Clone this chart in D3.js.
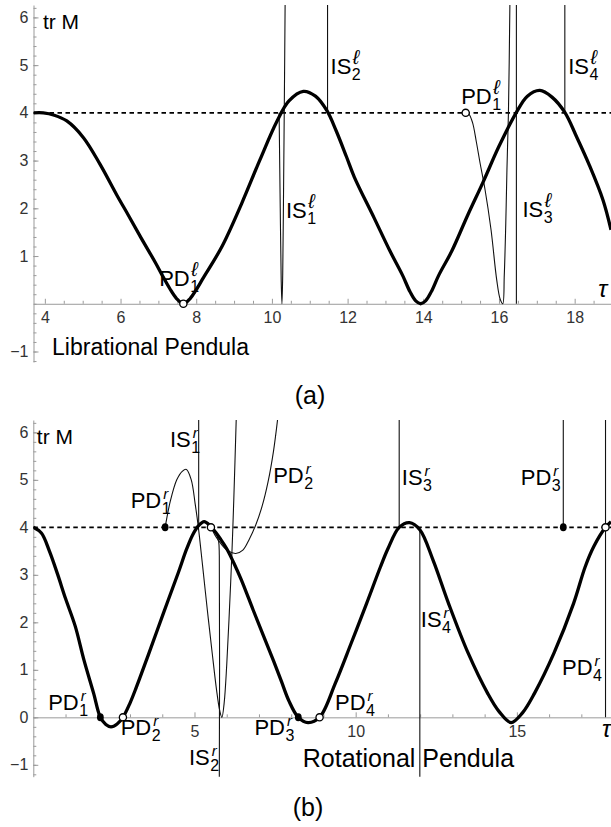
<!DOCTYPE html>
<html>
<head>
<meta charset="utf-8">
<script src="https://cdn.jsdelivr.net/npm/d3@7"></script>
<style>
body { margin: 0; background: #fff; }
text { font-family: "Liberation Sans", Arial, sans-serif; }
</style>
</head>
<body>
<script>
// ---------- (a) librational pendula ----------
var libXMajor = [4, 6, 8, 10, 12, 14, 16, 18];
var libYLabels = [-1, 1, 2, 3, 4, 5, 6];

// thick curve: [tau, tr M]
var libMain = [[3.70,4.00],[3.96,4.00],[4.25,3.95],[4.58,3.83],[5.02,3.48],[5.46,2.92],[5.90,2.28],[6.21,1.85],
  [6.55,1.37],[6.93,0.85],[7.12,0.57],[7.30,0.32],[7.48,0.11],[7.66,0.00],[7.84,0.11],[8.02,0.32],[8.17,0.52],
  [8.68,1.20],[9.20,2.10],[9.68,3.01],[10.13,3.82],[10.45,4.25],[10.83,4.45],[11.15,4.35],[11.45,4.05],
  [11.70,3.62],[11.97,3.08],[12.18,2.65],[12.70,1.80],[13.11,1.12],[13.45,0.60],[13.65,0.25],[13.80,0.06],
  [13.93,0.00],[14.06,0.06],[14.21,0.25],[14.41,0.60],[14.75,1.10],[15.17,1.85],[15.58,2.55],[16.00,3.30],
  [16.46,4.01],[16.75,4.35],[17.08,4.47],[17.40,4.33],[17.74,4.01],[18.05,3.50],[18.39,2.90],[18.75,2.17],
  [18.96,1.55]];
// thin branches
var libIS1 = [[10.19,4.0],[10.22,2.0],[10.245,0.5],[10.265,0.0],[10.285,0.6],[10.31,2.6],[10.33,4.4],[10.35,6.4]];
var libIS2 = [[11.47,4.03],[11.47,6.4]];
var libIS3 = [[16.46,0.0],[16.46,6.4]];
var libIS4 = [[17.74,4.0],[17.74,6.4]];
var libPD1 = [[15.12,4.0],[15.2,3.98],[15.3,3.8],[15.4,3.4],[15.5,2.95],[15.63,2.4],[15.79,1.55],[15.94,0.5],
  [16.03,0.1],[16.1,0.0],[16.14,0.6],[16.18,1.7],[16.21,2.8],[16.25,4.0],[16.29,6.4]];
var libOpen = [[7.66,0.0],[15.12,4.0]];
var libFilled = [];
// labels: text, subscript, superscript, tau, tr M (baseline anchor)
var libLabels = [["IS","1","\u2113",10.37,1.80],["IS","2","\u2113",11.55,4.81],["PD","1","\u2113",15.0,4.19],
  ["IS","4","\u2113",17.83,4.81],["IS","3","\u2113",16.62,1.82],["PD","1","\u2113",7.02,0.37]];

// ---------- (b) rotational pendula ----------
var rotXMajor = [5, 10, 15];
var rotYLabels = [-1, 0, 1, 2, 3, 4, 5, 6];

var rotMain = [[0.00,4.00],[0.25,3.88],[0.50,3.50],[0.75,3.02],[1.00,2.50],[1.30,1.92],[1.57,1.21],[1.87,0.51],
  [2.08,0.00],[2.25,-0.15],[2.41,-0.20],[2.60,-0.14],[2.78,0.00],[3.00,0.30],[3.20,0.64],[3.56,1.30],
  [4.04,2.20],[4.50,3.05],[4.76,3.55],[4.95,3.85],[5.12,4.03],[5.30,4.12],[5.48,4.04],[5.65,3.90],
  [5.80,3.76],[6.00,3.55],[6.22,3.25],[6.45,2.90],[6.82,2.26],[7.15,1.70],[7.44,1.21],[7.70,0.75],
  [7.92,0.36],[8.22,0.00],[8.52,-0.11],[8.88,0.00],[9.37,0.72],[9.86,1.56],[10.34,2.40],[10.77,3.17],
  [11.00,3.55],[11.35,4.00],[11.67,4.10],[11.99,3.95],[12.40,3.31],[12.88,2.40],[13.49,1.35],[14.09,0.51],
  [14.45,0.12],[14.82,-0.11],[15.18,0.10],[15.55,0.51],[16.15,1.35],[16.76,2.40],[17.12,3.17],[17.39,3.60],
  [17.75,4.00],[17.92,4.12]];
var rotPD1 = [[4.09,4.0],[4.25,4.55],[4.45,5.0],[4.62,5.18],[4.75,5.22],[4.9,5.0],[5.02,4.5],[5.12,4.0],
  [5.25,3.2],[5.4,2.25],[5.55,1.35],[5.68,0.6],[5.78,0.15],[5.85,0.0],[5.92,0.3],[6.0,1.1],[6.08,2.2],
  [6.16,3.45],[6.22,4.6],[6.3,6.4]];
var rotPD2 = [[5.51,4.0],[5.65,3.82],[5.85,3.63],[6.05,3.5],[6.28,3.45],[6.5,3.52],[6.7,3.75],[6.9,4.05],
  [7.1,4.45],[7.28,4.95],[7.45,5.6],[7.6,6.4]];
var rotIS1 = [[5.13,4.03],[5.13,6.4]];
var rotIS2 = [[5.55,3.97],[5.68,3.86],[5.75,3.7],[5.77,3.4],[5.77,-1.3]];
var rotIS3 = [[11.35,4.0],[11.35,6.4]];
var rotIS4 = [[11.99,3.97],[11.99,-1.3]];
var rotPD3 = [[16.44,4.0],[16.44,6.4]];
var rotPD4 = [[17.75,0.0],[17.75,6.4]];
var rotOpen = [[2.78,0.0],[8.88,0.0],[5.51,4.0],[17.75,4.0]];
var rotFilled = [[2.08,0.0],[8.22,0.0],[4.09,4.0],[16.44,4.0]];
var rotLabels = [["IS","1","r",4.24,5.70],["PD","1","r",3.02,4.40],["PD","2","r",7.44,4.93],
  ["IS","3","r",11.43,4.89],["PD","3","r",15.12,4.89],["IS","4","r",12.02,1.91],["PD","4","r",16.4,0.89],
  ["PD","1","r",0.46,0.15],["PD","2","r",2.71,-0.37],["PD","3","r",6.86,-0.37],["PD","4","r",9.36,0.15],
  ["IS","2","r",4.83,-1.00]];

var W = 611, H = 827;
var svg = d3.select("body").append("svg").attr("width", W).attr("height", H);

function addLabel(g, x, y, main, sub, sup) {
    var t = g.append("text").attr("x", x).attr("y", y).attr("font-size", 22).text(main);
    var w = t.node().getComputedTextLength();
    g.append("text").attr("x", x + w + 0.5).attr("y", y + 6).attr("font-size", 16).text(sub);
    if (sup == "r") {
        g.append("text").attr("x", x + w + 2).attr("y", y - 9)
            .attr("font-size", 15).attr("font-style", "italic").text(sup);
    } else {
        g.append("text").attr("x", x + w + 1.5).attr("y", y - 10)
            .attr("font-size", 20).attr("font-style", "italic").text(sup);
    }
}

function drawPanel(p) {
    var x = d3.scaleLinear().domain(p.xDomain).range(p.xRange);
    var y = d3.scaleLinear().domain(p.yDomain).range(p.yRange);
    var g = svg.append("g");

    g.append("clipPath").attr("id", p.id + "clip")
      .append("rect")
        .attr("x", p.xRange[0]).attr("y", p.yRange[1])
        .attr("width", W - p.xRange[0]).attr("height", p.yRange[0] - p.yRange[1]);

    // x axis: major with labels, minor ticks
    g.append("g").attr("transform", "translate(0," + y(0) + ")")
        .call(d3.axisBottom(x).tickValues(p.xMajor).tickSizeInner(-5).tickSizeOuter(0).tickPadding(8));
    g.append("g").attr("transform", "translate(0," + y(0) + ")")
        .call(d3.axisBottom(x).tickValues(p.xMinor).tickSizeInner(-3).tickSizeOuter(0).tickFormat(""))
        .select(".domain").remove();

    g.append("g").attr("transform", "translate(" + p.xRange[0] + ",0)")
        .call(d3.axisLeft(y).tickValues(p.yLabels).tickSizeInner(-5).tickSizeOuter(0).tickPadding(5)
            .tickFormat(function(d) { return d < 0 ? "\u2212" + Math.abs(d) : d; }));
    g.append("g").attr("transform", "translate(" + p.xRange[0] + ",0)")
        .call(d3.axisLeft(y).tickValues(p.yMinor).tickSizeInner(-3).tickSizeOuter(0).tickFormat(""))
        .select(".domain").remove();

    g.selectAll(".domain").attr("stroke", "#9a9a9a");
    g.selectAll(".tick line").attr("stroke", "#9a9a9a");
    g.selectAll(".tick text").attr("font-size", 16).attr("fill", "#333")
        .attr("font-family", "'Liberation Sans', Arial, sans-serif");

    // dashed level tr M = 4
    g.append("line")
        .attr("x1", p.xRange[0]).attr("x2", W)
        .attr("y1", y(4)).attr("y2", y(4))
        .attr("stroke", "#000").attr("stroke-width", 1.6).attr("stroke-dasharray", "4.5,3.5");

    var line = d3.line()
        .x(function(d) { return x(d[0]); })
        .y(function(d) { return y(d[1]); })
        .curve(d3.curveCatmullRom.alpha(0.5));

    var curves = g.append("g").attr("clip-path", "url(#" + p.id + "clip)");
    p.thin.forEach(function(s) {
        curves.append("path").attr("d", line(s))
            .attr("fill", "none").attr("stroke", "#111").attr("stroke-width", 1.1);
    });
    curves.append("path").attr("d", line(p.main))
        .attr("fill", "none").attr("stroke", "#000").attr("stroke-width", 3.3)
        .attr("stroke-linejoin", "round");

    g.selectAll(".openPt").data(p.open).enter().append("circle")
        .attr("cx", function(d) { return x(d[0]); })
        .attr("cy", function(d) { return y(d[1]); })
        .attr("r", 3.6).attr("fill", "#fff").attr("stroke", "#000").attr("stroke-width", 1.3);
    g.selectAll(".fillPt").data(p.filled).enter().append("ellipse")
        .attr("cx", function(d) { return x(d[0]); })
        .attr("cy", function(d) { return y(d[1]); })
        .attr("rx", 3.4).attr("ry", 4).attr("fill", "#000");

    p.labels.forEach(function(l) {
        addLabel(g, x(l[3]), y(l[4]), l[0], l[1], l[2]);
    });

    // axis names
    g.append("text").attr("x", x(p.trM[0])).attr("y", y(p.trM[1]))
        .attr("font-size", 21).text("tr M");
    g.append("text").attr("x", x(p.tau[0])).attr("y", y(p.tau[1]))
        .attr("font-size", 24).attr("font-style", "italic")
        .attr("font-family", "'Liberation Serif', 'Times New Roman', serif").text("\u03C4");
    g.append("text").attr("x", x(p.title[0])).attr("y", y(p.title[1]))
        .attr("font-size", p.titleSize).text(p.title[2]);

    svg.append("text").attr("x", p.caption[0]).attr("y", p.caption[1])
        .attr("text-anchor", "middle").attr("font-size", 25)
        .attr("font-family", "'Liberation Serif', 'Times New Roman', serif").text(p.caption[2]);
}

drawPanel({
    id: "lib",
    xDomain: [3.7, 18.96], xRange: [33.5, 611],
    yDomain: [-1.22, 6.26], yRange: [362, 5],
    xMajor: libXMajor, xMinor: d3.range(4, 19, 0.5).filter(function(v) { return v % 2 != 0; }),
    yLabels: libYLabels, yMinor: d3.range(-12, 63, 2).map(function(v) { return v / 10; }),
    main: libMain,
    thin: [libIS1, libIS2, libIS3, libIS4, libPD1],
    open: libOpen, filled: libFilled,
    labels: libLabels,
    trM: [3.95, 5.76], tau: [18.62, 0.14],
    title: [4.19, -1.07, "Librational Pendula"], titleSize: 23,
    caption: [310, 404, "(a)"]
});

drawPanel({
    id: "rot",
    xDomain: [0, 17.92], xRange: [33.3, 611],
    yDomain: [-1.25, 6.26], yRange: [776.7, 420],
    xMajor: rotXMajor, xMinor: d3.range(1, 18, 1).filter(function(v) { return v % 5 != 0; }),
    yLabels: rotYLabels, yMinor: d3.range(-12, 63, 2).map(function(v) { return v / 10; }),
    main: rotMain,
    thin: [rotPD1, rotPD2, rotIS1, rotIS2, rotIS3, rotIS4, rotPD3, rotPD4],
    open: rotOpen, filled: rotFilled,
    labels: rotLabels,
    trM: [0.11, 5.75], tau: [17.64, -0.41],
    title: [8.36, -1.04, "Rotational Pendula"], titleSize: 25,
    caption: [308, 816, "(b)"]
});
</script>
</body>
</html>
